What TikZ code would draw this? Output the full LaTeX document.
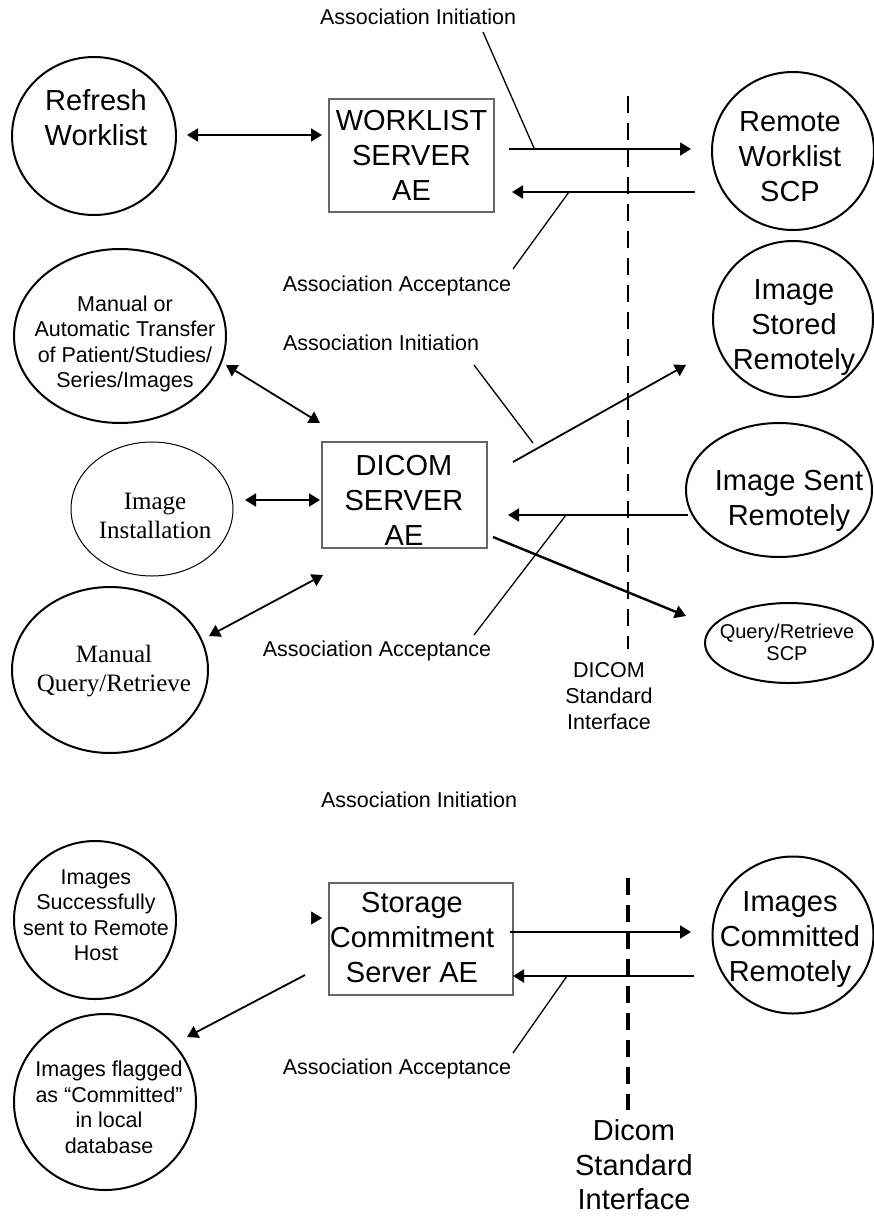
\documentclass[tikz,border=0pt]{standalone}
\usepackage{fontspec}
\setmainfont{Liberation Sans}
\newfontfamily\timesface{Liberation Serif}
\usetikzlibrary{arrows.meta,shapes.geometric}

\tikzset{
  bubble/.style={draw, ellipse, line width=2pt, inner sep=0pt},
  thinbubble/.style={draw, ellipse, line width=1pt, inner sep=0pt},
  aebox/.style={draw=black!60, line width=1.2pt, rectangle, inner sep=0pt},
  bigtxt/.style={align=center, inner sep=0pt, font=\fontsize{29}{35}\selectfont},
  midtxt/.style={align=center, inner sep=0pt, font=\fontsize{21.5}{25.5}\selectfont},
  smalltxt/.style={align=center, inner sep=0pt, font=\fontsize{20}{21.5}\selectfont},
  romantxt/.style={align=center, inner sep=0pt, font=\timesface\fontsize{25}{29}\selectfont},
  tipA/.tip={Triangle[length=11pt,width=13pt]},
  link/.style={line width=1.8pt, -tipA},
  duallink/.style={line width=1.8pt, tipA-tipA},
  pointer/.style={line width=1.3pt},
  iface/.style={line width=2.6pt, dash pattern=on 17pt off 10pt},
}

\begin{document}
\begin{tikzpicture}[x=1pt,y=-1pt]
\fill[white] (0,0) rectangle (874,1216);
\useasboundingbox (0,0) rectangle (874,1216);

% ---------------- Worklist section ----------------
\node[midtxt] (ai1) at (418,17) {Association Initiation};
\node[bubble, minimum width=164pt, minimum height=158pt] (refresh) at (94,136) {};
\node[bigtxt] (refreshT) at (96,118) {Refresh\\Worklist};
\node[aebox, bigtxt, minimum width=165pt, minimum height=113pt] (wlbox) at (411.5,155.5) {WORKLIST\\SERVER\\AE};
\node[bubble, minimum width=162pt, minimum height=158pt] (rws) at (793,151) {};
\node[bigtxt] (rwsT) at (790,157) {Remote\\Worklist\\SCP};
\node[midtxt] (acc1) at (397,286) {Association Acceptance};

\coordinate (rfA) at (187,135);  \coordinate (rfB) at (322,135);
\coordinate (wlOa) at (509,149); \coordinate (wlOb) at (691,149);
\coordinate (wlRa) at (695,192); \coordinate (wlRb) at (512,192);
\coordinate (ai1a) at (483,32);  \coordinate (ai1b) at (534,148);
\coordinate (acc1a) at (569,192); \coordinate (acc1b) at (513,269);

\draw[duallink] (rfA) -- (rfB);
\draw[link] (wlOa) -- (wlOb);
\draw[link] (wlRa) -- (wlRb);
\draw[pointer] (ai1a) -- (ai1b);
\draw[pointer] (acc1a) -- (acc1b);

% ---------------- DICOM server section ----------------
\node[bubble, minimum width=160pt, minimum height=156pt] (iss) at (793,319) {};
\node[bigtxt] (issT) at (794,328) {Image\\Stored\\Remotely};
\node[bubble, minimum width=212pt, minimum height=174pt] (mat) at (120,336) {};
\node[midtxt] (matT) at (125,344) {Manual or\\Automatic Transfer\\of Patient/Studies/\\Series/Images};
\node[midtxt] (ai2) at (381,343) {Association Initiation};
\node[aebox, minimum width=165pt, minimum height=106pt] (dcbox) at (404.5,495) {};
\node[bigtxt] (dcboxT) at (404,500) {DICOM\\SERVER\\AE};
\node[thinbubble, minimum width=162pt, minimum height=134pt] (inst) at (152,509) {};
\node[romantxt] (instT) at (155,515.5) {Image\\Installation};
\node[bubble, minimum width=186pt, minimum height=134pt] (isr) at (779,490) {};
\node[bigtxt] (isrT) at (789,500.5) {Image Sent\\Remotely};
\node[bubble, minimum width=168pt, minimum height=80pt] (qrscp) at (789,643) {};
\node[smalltxt] (qrscpT) at (787,642.5) {Query/Retrieve\\SCP};
\node[bubble, minimum width=196pt, minimum height=166pt] (mqr) at (110,670) {};
\node[romantxt] (mqrT) at (114,671.5) {Manual\\Query/Retrieve};
\node[midtxt] (acc2) at (377,651) {Association Acceptance};
\node[midtxt, font=\fontsize{21.5}{26}\selectfont] (dsi1) at (609,696) {DICOM\\Standard\\Interface};

\coordinate (matA) at (226,365);  \coordinate (matB) at (320,423);
\coordinate (ai2a) at (474,365);  \coordinate (ai2b) at (533,443);
\coordinate (issA) at (513,462);  \coordinate (issB) at (686,365);
\coordinate (instA) at (245,500); \coordinate (instB) at (320,500);
\coordinate (isrA) at (688,515);  \coordinate (isrB) at (508,515);
\coordinate (acc2a) at (566,515); \coordinate (acc2b) at (474,635);
\coordinate (qrA) at (493,537);   \coordinate (qrB) at (686,616);
\coordinate (mqrA) at (209,636);  \coordinate (mqrB) at (323,575);
\coordinate (if1a) at (628,96);   \coordinate (if1b) at (628,649);

\draw[duallink] (matA) -- (matB);
\draw[pointer] (ai2a) -- (ai2b);
\draw[link] (issA) -- (issB);
\draw[duallink] (instA) -- (instB);
\draw[link] (isrA) -- (isrB);
\draw[pointer] (acc2a) -- (acc2b);
\draw[link, line width=2.4pt] (qrA) -- (qrB);
\draw[duallink] (mqrA) -- (mqrB);
\draw[iface] (if1a) -- (if1b);

% ---------------- Storage commitment section ----------------
\node[midtxt] (ai3) at (419,800) {Association Initiation};
\node[bubble, minimum width=162pt, minimum height=158pt] (isu) at (95,920) {};
\node[midtxt] (isuT) at (96,915) {Images\\Successfully\\sent to Remote\\Host};
\node[aebox, minimum width=184pt, minimum height=112pt] (scbox) at (421,939) {};
\node[bigtxt] (scboxT) at (412,938) {Storage\\Commitment\\Server AE};
\node[bubble, minimum width=161pt, minimum height=157pt] (icr) at (793,935) {};
\node[bigtxt] (icrT) at (790,940) {Images\\Committed\\Remotely};
\node[midtxt] (acc3) at (397,1069) {Association Acceptance};
\node[bubble, minimum width=182pt, minimum height=176pt] (flag) at (105,1102) {};
\node[midtxt] (flagT) at (109,1107.5) {Images flagged\\as “Committed”\\in local\\database};
\node[bigtxt, font=\fontsize{29}{34.5}\selectfont] (dsi2) at (634,1165) {Dicom\\Standard\\Interface};

\coordinate (tipA) at (311,918);  \coordinate (tipB) at (322,918);
\coordinate (scOa) at (510,932);  \coordinate (scOb) at (691,932);
\coordinate (scRa) at (694,976);  \coordinate (scRb) at (513,976);
\coordinate (acc3a) at (567,976); \coordinate (acc3b) at (513,1053);
\coordinate (flA) at (305,975);   \coordinate (flB) at (187,1037);
\coordinate (if2a) at (628,878);  \coordinate (if2b) at (628,1110);

\draw[link, line width=0.5pt] (tipA) -- (tipB);
\draw[link] (scOa) -- (scOb);
\draw[link] (scRa) -- (scRb);
\draw[pointer] (acc3a) -- (acc3b);
\draw[link] (flA) -- (flB);
\draw[iface, line width=4pt] (if2a) -- (if2b);
\end{tikzpicture}
\end{document}
